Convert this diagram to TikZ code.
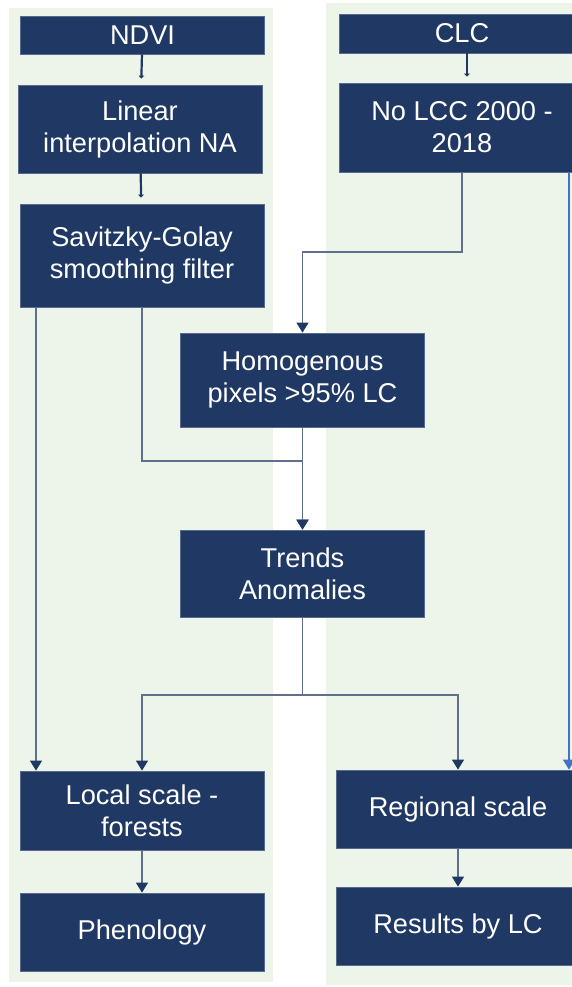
\documentclass[tikz,border=0pt]{standalone}
\usepackage{fontspec}
\setmainfont{Liberation Sans}
\usepackage{tikz}
\usetikzlibrary{arrows.meta}
\usepackage{xcolor}
\definecolor{boxblue}{HTML}{203864}
\definecolor{panelgreen}{HTML}{EDF5EA}
\definecolor{linkgrey}{HTML}{5F6F8C}
\definecolor{linkblue}{HTML}{4472C4}

\begin{document}
\begin{tikzpicture}[x=0.5pt, y=-0.5pt,
    box/.style={rectangle, fill=boxblue, draw=boxblue!75!white, line width=0.4pt, text=white, align=center,
      minimum width=122pt, inner sep=0pt, font=\fontsize{13.6pt}{16pt}\selectfont},
    link/.style={draw=linkgrey, line width=0.75pt, -{Triangle[width=6pt,length=5pt,color=boxblue]}},
    bluelink/.style={draw=linkblue, line width=0.75pt, -{Triangle[width=6pt,length=5pt]}},
    stub/.style={draw=boxblue, line width=1.1pt, -{Triangle[width=2.8pt,length=1.5pt]}, shorten >=3pt}]
  \useasboundingbox (0,0) rectangle (572,987);
  \clip (0,0) rectangle (572,987);
  % background panels
  \fill[panelgreen] (9,8) rectangle (273,982);
  \fill[panelgreen] (326,3) rectangle (600,985);

  % NDVI column
  \node[box, minimum height=19pt] (ndvi) at (142.5,35) {NDVI};
  \node[box, minimum height=44pt] (linear) at (140,129) {Linear\\interpolation NA};
  \node[box, minimum height=51.5pt] (sg) at (142,255.5) {Savitzky-Golay\\smoothing filter};

  % CLC column
  \node[box, minimum height=19.5pt, minimum width=123pt] (clc) at (462,33.5) {CLC};
  \node[box, minimum height=44.5pt, minimum width=123pt] (nolcc) at (462,127.5) {No LCC 2000 -\\2018};

  % middle
  \node[box, minimum height=47pt] (homog) at (302.5,380) {Homogenous\\pixels >95\% LC};
  \node[box, minimum height=43.5pt] (trends) at (302.5,573.5) {Trends\\Anomalies};

  % outputs
  \node[box, minimum height=39.5pt] (local) at (142,810.5) {Local scale -\\forests};
  \node[box, minimum height=39pt] (pheno) at (142,932) {Phenology};
  \node[box, minimum height=39pt] (regional) at (458,809) {Regional scale};
  \node[box, minimum height=39pt] (results) at (458,926) {Results by LC};

  % junctions
  \coordinate (j1) at (302.5,461);
  \coordinate (j2) at (302.5,695);
  \coordinate (j3) at (462,252);
  \coordinate (rx) at (569,0);

  \draw[stub] (ndvi) -- (linear);
  \draw[stub] (linear) -- (sg);
  \draw[stub] ([xshift=2.5pt]clc.south) -- ([xshift=2.5pt]nolcc.north);

  \draw[link] (nolcc.south) -- (j3) -| (homog.north);
  \draw[link] (sg.south) |- (j1) -- (trends.north);
  \draw[link] (homog.south) -- (trends.north);
  \draw[link] ([xshift=-53pt]sg.south) -- ([xshift=-53pt]local.north);
  \draw[link] (trends.south) -- (j2) -| (local.north);
  \draw[link] (j2) -| (regional.north);
  \draw[bluelink] (nolcc.south -| rx) -- (regional.north -| rx);
  \draw[link] (local) -- (pheno);
  \draw[link] (regional) -- (results);
\end{tikzpicture}
\end{document}
